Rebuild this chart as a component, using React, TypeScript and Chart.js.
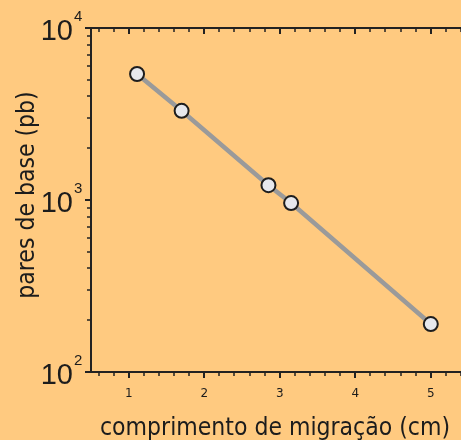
import React, { useEffect, useRef } from "react";
import { Chart, registerables } from "chart.js";

Chart.register(...registerables);

// ---- data ----
const migrationCm = [1.11, 1.7, 2.85, 3.15, 5.0];
const basePairs = [5400, 3300, 1220, 960, 190];
const xTickLabels = ["1", "2", "3", "4", "5"];
const yDecadeExponents = [2, 3, 4];
const xTitle = "comprimento de migração (cm)";
const yTitle = "pares de base (pb)";

const BG = "#FFCA80";
const AXIS = "#222222";
const TEXT = "#1c1c1c";
const TITLE_FONT = "24.5px 'DejaVu Sans Condensed', 'DejaVu Sans'";

const axesPlugin = {
  id: "customAxes",
  beforeDraw(chart: any) {
    const ctx = chart.ctx;
    ctx.save();
    ctx.fillStyle = BG;
    ctx.fillRect(0, 0, chart.width, chart.height);
    ctx.restore();
  },
  beforeDatasetsDraw(chart: any) {
    const { ctx, chartArea: ca, scales } = chart;
    const xs = scales.x;
    const ys = scales.y;
    ctx.save();
    ctx.strokeStyle = AXIS;
    ctx.lineCap = "butt";

    // axis lines
    ctx.lineWidth = 2;
    ctx.beginPath();
    ctx.moveTo(ca.left, ca.top - 1);
    ctx.lineTo(ca.left, ca.bottom + 1);
    ctx.moveTo(ca.left - 4, ca.top);
    ctx.lineTo(ca.right, ca.top);
    ctx.moveTo(ca.left - 4, ca.bottom);
    ctx.lineTo(ca.right, ca.bottom);
    ctx.stroke();

    // x ticks (minor every 0.2)
    const iMin = Math.ceil(xs.min * 5 - 1e-6);
    const iMax = Math.floor(xs.max * 5 + 1e-6);
    for (let i = iMin; i <= iMax; i++) {
      const v = i / 5;
      const px = Math.round(xs.getPixelForValue(v));
      const major = i % 5 === 0;
      ctx.lineWidth = major ? 2 : 1.5;
      const len = major ? 6 : 4;
      ctx.beginPath();
      ctx.moveTo(px, ca.bottom);
      ctx.lineTo(px, ca.bottom + len);
      ctx.moveTo(px, ca.top);
      ctx.lineTo(px, ca.top + len);
      ctx.stroke();
    }

    // y ticks (log)
    for (const e of yDecadeExponents) {
      const mults = e === yDecadeExponents[yDecadeExponents.length - 1] ? [1] : [1, 2, 3, 4, 5, 6, 7, 8, 9];
      for (const m of mults) {
        const v = m * Math.pow(10, e);
        const py = Math.round(ys.getPixelForValue(v));
        const major = m === 1;
        ctx.lineWidth = major ? 2 : 1.5;
        ctx.beginPath();
        ctx.moveTo(ca.left - (major ? 6 : 4), py);
        ctx.lineTo(ca.left, py);
        ctx.stroke();
      }
    }

    // x tick labels
    ctx.fillStyle = TEXT;
    ctx.font = "12px 'DejaVu Sans'";
    ctx.textAlign = "center";
    ctx.textBaseline = "alphabetic";
    xTickLabels.forEach((lab) => {
      const px = xs.getPixelForValue(Number(lab));
      ctx.fillText(lab, px, 397);
    });

    // y tick labels 10^n
    for (const e of yDecadeExponents) {
      const py = ys.getPixelForValue(Math.pow(10, e));
      ctx.font = "29px 'Liberation Sans'";
      ctx.textAlign = "right";
      ctx.fillText("10", 73, py + 12);
      ctx.font = "15px 'Liberation Sans'";
      ctx.textAlign = "left";
      ctx.fillText(String(e), 74, py - 7);
    }

    // titles
    ctx.font = TITLE_FONT;
    ctx.textAlign = "center";
    ctx.fillText(xTitle, 275, 435);
    ctx.save();
    ctx.translate(33.5, 195);
    ctx.rotate(-Math.PI / 2);
    ctx.fillText(yTitle, 0, 0);
    ctx.restore();

    ctx.restore();
  },
};

export default function App() {
  const canvasRef = useRef<HTMLCanvasElement | null>(null);

  useEffect(() => {
    if (!canvasRef.current) return;
    const chart = new Chart(canvasRef.current, {
      type: "line",
      data: {
        datasets: [
          {
            data: migrationCm.map((x, i) => ({ x, y: basePairs[i] })),
            borderColor: "#9a9a9a",
            borderWidth: 4.5,
            pointRadius: 7,
            pointHoverRadius: 7,
            pointBorderWidth: 2,
            pointBackgroundColor: "#e7e8ec",
            pointBorderColor: "#1e1e1e",
            tension: 0,
            clip: false as any,
          },
        ],
      },
      options: {
        animation: false,
        responsive: false,
        devicePixelRatio: 1,
        events: [],
        layout: { autoPadding: false, padding: { left: 91, top: 28, right: 0, bottom: 68 } },
        plugins: { legend: { display: false }, tooltip: { enabled: false } },
        scales: {
          x: { type: "linear", min: 0.5, max: 5.4, display: false },
          y: { type: "logarithmic", min: 100, max: 10000, display: false },
        },
      },
      plugins: [axesPlugin],
    });
    return () => chart.destroy();
  }, []);

  return (
    <div style={{ position: "fixed", left: 0, top: 0, width: 461, height: 440 }}>
      <canvas ref={canvasRef} width={461} height={440} style={{ display: "block" }} />
    </div>
  );
}
